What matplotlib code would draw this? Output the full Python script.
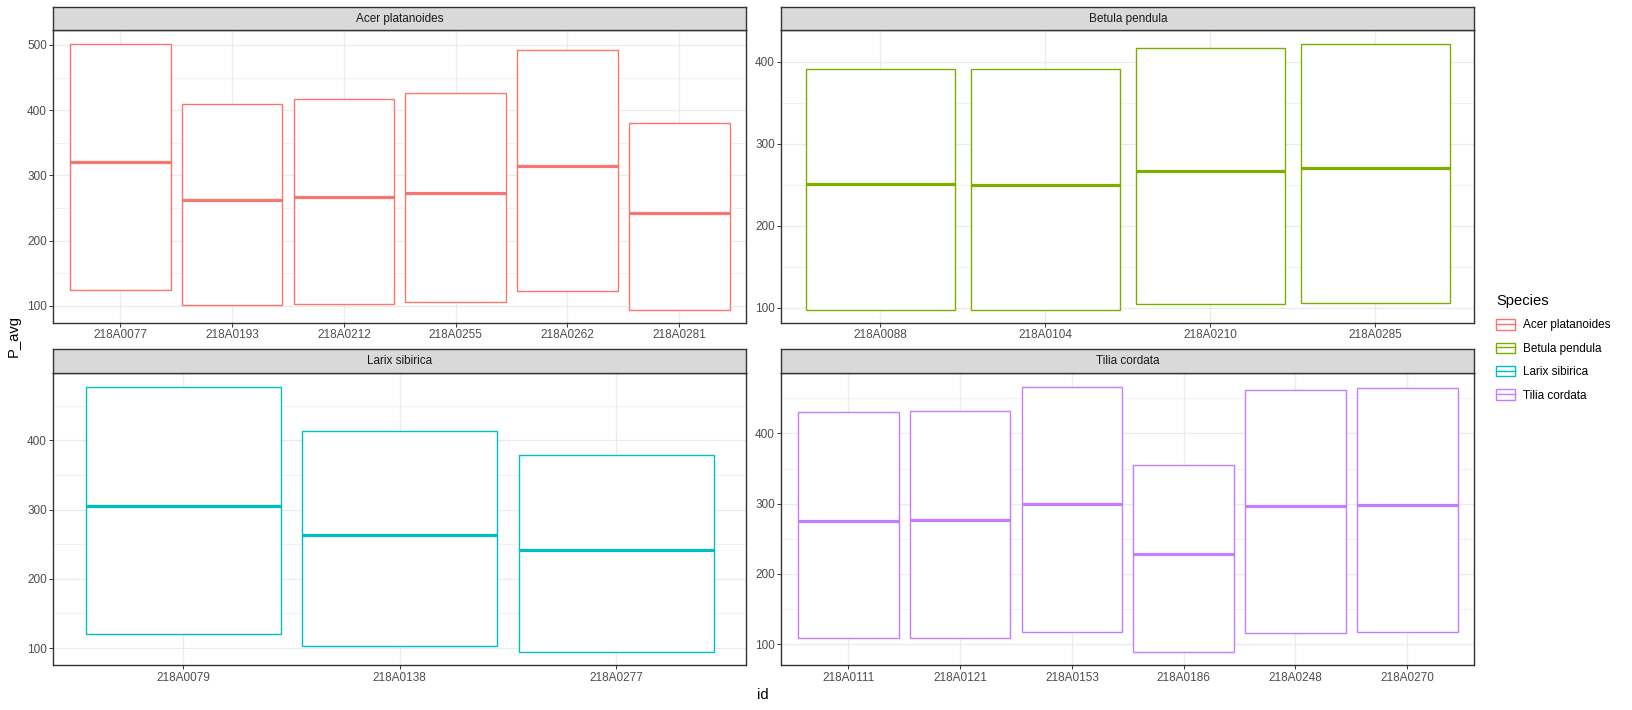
import numpy as np
import matplotlib
matplotlib.use('Agg')
import matplotlib.pyplot as plt
from matplotlib.patches import Patch
from matplotlib.lines import Line2D
from matplotlib.legend_handler import HandlerTuple
from matplotlib.ticker import MultipleLocator

plt.rcParams['font.family'] = ['Liberation Sans', 'DejaVu Sans']

# 데이터
species = ['Acer platanoides', 'Betula pendula', 'Larix sibirica', 'Tilia cordata']
colors = ['#F8766D', '#7CAE00', '#00BFC4', '#C77CFF']

acer_ids = ['218A0077', '218A0193', '218A0212', '218A0255', '218A0262', '218A0281']
acer_low = [124.6, 101.5, 103.0, 106.0, 123.0, 93.9]
acer_med = [321.0, 262.7, 267.0, 273.4, 314.8, 242.7]
acer_high = [502.0, 410.0, 417.6, 426.9, 492.8, 380.8]

betula_ids = ['218A0088', '218A0104', '218A0210', '218A0285']
betula_low = [97.6, 97.6, 104.9, 106.1]
betula_med = [251.2, 250.0, 267.0, 270.7]
betula_high = [391.0, 391.0, 417.0, 422.0]

larix_ids = ['218A0079', '218A0138', '218A0277']
larix_low = [120.2, 102.9, 94.2]
larix_med = [305.8, 263.7, 242.0]
larix_high = [477.9, 414.4, 378.4]

tilia_ids = ['218A0111', '218A0121', '218A0153', '218A0186', '218A0248', '218A0270']
tilia_low = [108.5, 108.5, 117.0, 88.6, 115.6, 117.0]
tilia_med = [274.9, 276.3, 299.0, 227.9, 296.2, 297.6]
tilia_high = [429.9, 432.7, 466.8, 354.5, 462.6, 465.4]

groups = [
    (acer_ids, acer_low, acer_med, acer_high),
    (betula_ids, betula_low, betula_med, betula_high),
    (larix_ids, larix_low, larix_med, larix_high),
    (tilia_ids, tilia_low, tilia_med, tilia_high),
]

W, H = 1633, 710
fig = plt.figure(figsize=(W / 100, H / 100), dpi=100)


def px_axes(l, t, r, b):
    return fig.add_axes([l / W, 1 - b / H, (r - l) / W, (b - t) / H])


# 패널 위치 (픽셀): left, right, strip top, strip bottom, panel bottom
panels = [(53.3, 746.3, 7.3, 30.3, 323), (781.3, 1474.3, 7.3, 30.3, 323),
          (53.3, 746.3, 349.3, 373.3, 665.3), (781.3, 1474.3, 349.3, 373.3, 665.3)]

border = '#333333'
fs = 8.45

for (l, r, st, sb, pb), name, c, (ids, low, med, high) in zip(panels, species, colors, groups):
    ax = px_axes(l, sb, r, pb)
    low = np.array(low)
    med = np.array(med)
    high = np.array(high)
    x = np.arange(len(ids))
    ax.bar(x, high - low, bottom=low, width=0.9, facecolor='white',
           edgecolor=c, linewidth=1.0, zorder=2)
    ax.hlines(med, x - 0.45, x + 0.45, color=c, linewidth=2.3, zorder=3)

    ax.set_xlim(-0.6, len(ids) - 0.4)
    span = high.max() - low.min()
    ax.set_ylim(low.min() - 0.05 * span, high.max() + 0.05 * span)
    ax.set_xticks(x)
    ax.set_xticklabels(ids)
    ax.yaxis.set_major_locator(MultipleLocator(100))
    ax.yaxis.set_minor_locator(MultipleLocator(50))
    ax.grid(True, which='major', color='#EBEBEB', linewidth=0.9, zorder=0)
    ax.grid(True, which='minor', axis='y', color='#EBEBEB', linewidth=0.5, zorder=0)
    ax.set_axisbelow(True)
    ax.tick_params(which='major', length=2.6, width=0.7, color=border,
                   labelcolor='#4D4D4D', labelsize=fs, pad=2)
    ax.tick_params(which='minor', length=0)
    for sp in ax.spines.values():
        sp.set_color(border)
        sp.set_linewidth(1.0)

    strip = px_axes(l, st, r, sb)
    strip.set_facecolor('#D9D9D9')
    strip.set_xticks([])
    strip.set_yticks([])
    for sp in strip.spines.values():
        sp.set_color(border)
        sp.set_linewidth(1.0)
    strip.text(0.5, 0.5, name, ha='center', va='center', fontsize=fs,
               color='#1A1A1A', transform=strip.transAxes)

fig.text(14 / W, 1 - 336 / H, 'P_avg', rotation=90, ha='center', va='center', fontsize=10.6)
fig.text(763 / W, 1 - 695 / H, 'id', ha='center', va='center', fontsize=10.6)

# 범례: 상자 + 가운데 선
handles = [(Patch(facecolor='white', edgecolor=c, linewidth=1.0),
            Line2D([], [], color=c, linewidth=1.0)) for c in colors]
fig.legend(handles=handles, labels=species,
           handler_map={tuple: HandlerTuple(ndivide=1, pad=0)},
           loc='upper left', bbox_to_anchor=(1496 / W, 1 - 294 / H),
           frameon=False, title='Species', title_fontsize=10.6, fontsize=fs,
           alignment='left', handlelength=1.6, handleheight=1.0,
           handletextpad=0.7, labelspacing=0.95, borderaxespad=0, borderpad=0)

fig.savefig('out.png', dpi=100)
